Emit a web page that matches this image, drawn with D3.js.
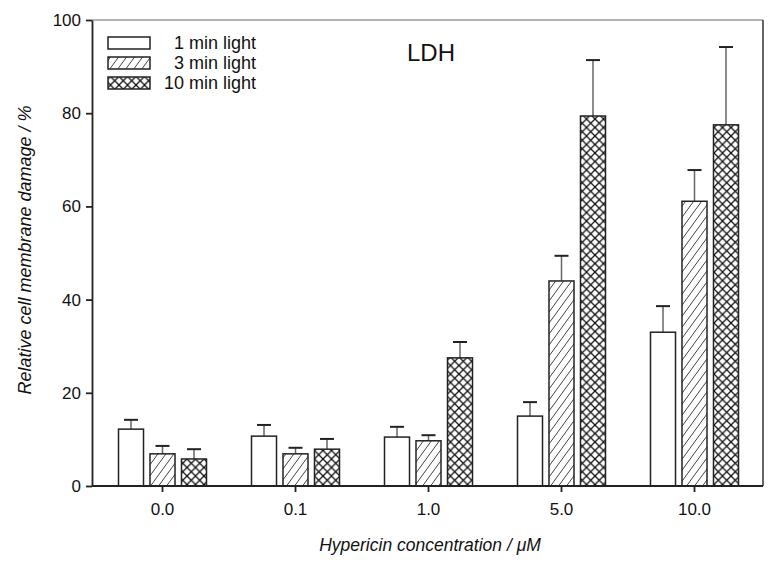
<!DOCTYPE html>
<html><head><meta charset="utf-8">
<script src="https://cdn.jsdelivr.net/npm/d3@7"></script>
<style>body{margin:0;background:#fff}svg{display:block;font-family:Arial,"Liberation Sans",sans-serif}</style>
</head><body>
<svg id="c" width="778" height="564"></svg>
<script>
const categories = ["0.0", "0.1", "1.0", "5.0", "10.0"];
const seriesNames = ["1 min light", "3 min light", "10 min light"];
const values1min = [12.2, 10.7, 10.5, 15.0, 33.0];
const values3min = [6.9, 6.9, 9.7, 44.0, 61.1];
const values10min = [5.8, 7.9, 27.5, 79.4, 77.5];
const err1min = [2.0, 2.4, 2.2, 3.0, 5.6];
const err3min = [1.7, 1.3, 1.2, 5.4, 6.7];
const err10min = [2.1, 2.2, 3.4, 12.0, 16.7];
const yTicks = [0, 20, 40, 60, 80, 100];

const series = [
  {name: seriesNames[0], vals: values1min, errs: err1min, fill: "#fff"},
  {name: seriesNames[1], vals: values3min, errs: err3min, fill: "url(#hatch)"},
  {name: seriesNames[2], vals: values10min, errs: err10min, fill: "url(#cross)"}
];

const svg = d3.select("#c");
const L = 92, R = 763, T = 20, B = 486;
const x = d3.scaleBand().domain(categories).range([96, 761]);
const xi = d3.scaleBand().domain(d3.range(3)).range([-44, 44]).paddingInner(0.206);
const y = d3.scaleLinear().domain([0, 100]).range([B, T]);

const defs = svg.append("defs");
const h = defs.append("pattern").attr("id", "hatch").attr("patternUnits", "userSpaceOnUse")
  .attr("width", 8).attr("height", 11);
h.append("rect").attr("width", 8).attr("height", 11).attr("fill", "#fff");
h.append("path").attr("d", "M-1,12.4 L9,-1.4 M-9,12.4 L1,-1.4 M7,12.4 L17,-1.4").attr("stroke", "#444").attr("stroke-width", 1);
const c = defs.append("pattern").attr("id", "cross").attr("patternUnits", "userSpaceOnUse")
  .attr("width", 8.5).attr("height", 8.5);
c.append("rect").attr("width", 8.5).attr("height", 8.5).attr("fill", "#fff");
c.append("path").attr("d", "M0,0 L8.5,8.5 M8.5,0 L0,8.5").attr("stroke", "#111").attr("stroke-width", 1.3);

// frame top/right
svg.append("line").attr("x1", L).attr("x2", R).attr("y1", T).attr("y2", T).attr("stroke", "#999").attr("stroke-width", 1.5);
svg.append("line").attr("x1", R).attr("x2", R).attr("y1", T).attr("y2", B).attr("stroke", "#333").attr("stroke-width", 1.5);

// bars
series.forEach((s, si) => {
  const g = svg.append("g");
  categories.forEach((cat, i) => {
    const bx = x(cat) + x.bandwidth() / 2 + xi(si);
    const cx = bx + xi.bandwidth() / 2;
    const top = y(s.vals[i]);
    const et = y(s.vals[i] + s.errs[i]);
    g.append("line").attr("x1", cx).attr("x2", cx).attr("y1", top).attr("y2", et).attr("stroke", "#666").attr("stroke-width", 1.5);
    g.append("line").attr("x1", cx - 7).attr("x2", cx + 7).attr("y1", et).attr("y2", et).attr("stroke", "#222").attr("stroke-width", 2);
    g.append("rect").attr("x", bx).attr("y", top).attr("width", xi.bandwidth()).attr("height", B - top)
      .attr("fill", s.fill).attr("stroke", "#222").attr("stroke-width", 1.5);
  });
});

// axes
const ya = svg.append("g").attr("transform", `translate(${L},0)`)
  .call(d3.axisLeft(y).tickValues(yTicks).tickSize(6).tickSizeOuter(0).tickPadding(5));
ya.select(".domain").attr("stroke", "#222").attr("stroke-width", 1.8);
ya.selectAll(".tick line").attr("stroke", "#222").attr("stroke-width", 1.8);
ya.selectAll(".tick text").attr("font-size", 17).attr("fill", "#111").attr("font-family", "Arial, Liberation Sans, sans-serif");

const xa = svg.append("g").attr("transform", `translate(0,${B})`)
  .call(d3.axisBottom(x).tickSize(6).tickSizeOuter(0).tickPadding(11));
xa.select(".domain").remove();
svg.append("line").attr("x1", L).attr("x2", R).attr("y1", B).attr("y2", B).attr("stroke", "#222").attr("stroke-width", 1.8);
xa.selectAll(".tick line").attr("stroke", "#222").attr("stroke-width", 1.8);
xa.selectAll(".tick text").attr("font-size", 17).attr("fill", "#111").attr("font-family", "Arial, Liberation Sans, sans-serif");

// axis titles
svg.append("text").attr("x", 430).attr("y", 551).attr("text-anchor", "middle").attr("font-size", 17.5)
  .attr("font-style", "italic").attr("fill", "#111").text("Hypericin concentration / \u03bcM");
svg.append("text").attr("transform", "translate(31,250) rotate(-90)").attr("text-anchor", "middle").attr("font-size", 18)
  .attr("font-style", "italic").attr("fill", "#111").text("Relative cell membrane damage / %");

// LDH label
svg.append("text").attr("x", 407).attr("y", 61).attr("font-size", 24).attr("fill", "#111").text("LDH");

// legend
series.forEach((s, si) => {
  const ly = 37 + si * 20;
  svg.append("rect").attr("x", 108).attr("y", ly).attr("width", 42).attr("height", 12)
    .attr("fill", s.fill).attr("stroke", "#222").attr("stroke-width", 1.5);
  svg.append("text").attr("x", 256).attr("y", ly + 12).attr("text-anchor", "end").attr("font-size", 18)
    .attr("fill", "#111").text(s.name);
});
</script>
</body></html>
